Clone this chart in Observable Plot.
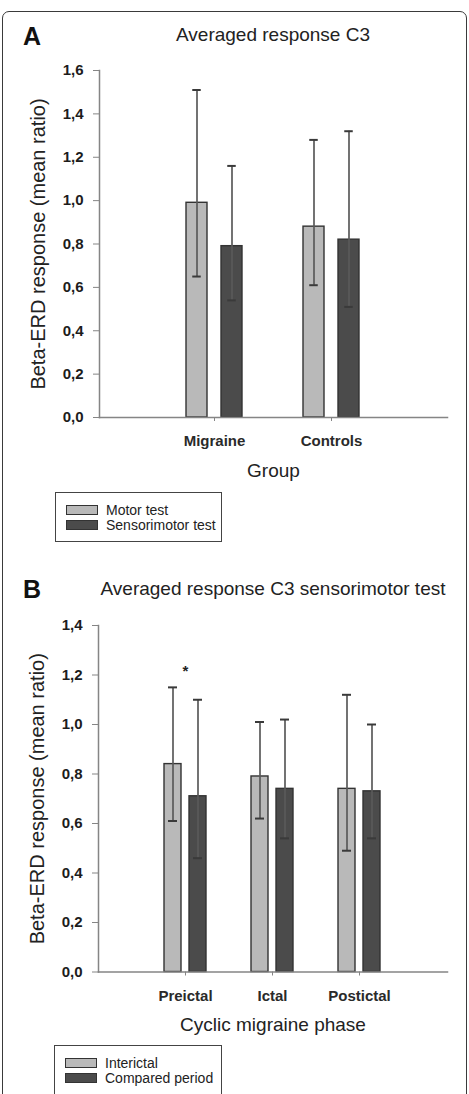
<!DOCTYPE html>
<html>
<head>
<meta charset="utf-8">
<script src="https://cdn.jsdelivr.net/npm/d3@7"></script>
<script src="https://cdn.jsdelivr.net/npm/@observablehq/plot@0.6"></script>
<style>
  body { margin: 0; background: #fff; font-family: "Liberation Sans", Arial, sans-serif; color: #1c1c1c; }
  #page { position: relative; width: 469px; height: 1094px; overflow: hidden; background: #fff; }
  #frame { position: absolute; left: 2px; top: 11px; width: 465px; height: 1110px; box-sizing: border-box;
           border: 1.5px solid #3a3a3a; border-radius: 7px; }
  .letter { position: absolute; font-weight: bold; font-size: 25px; line-height: 25px; color: #111; }
  .title { position: absolute; left: 99px; width: 348px; text-align: center; font-size: 19px; line-height: 19px;
           white-space: nowrap; color: #222; }
  .chart { position: absolute; left: 0; width: 469px; }
  .chart svg { position: absolute; left: 0; top: 0; }
  .legend { position: absolute; box-sizing: border-box; border: 1.5px solid #444; background: #fff; }
  .legend .row { position: absolute; left: 10px; height: 15px; display: flex; align-items: center;
                 font-size: 14px; color: #222; white-space: nowrap; }
  .legend .swatch { width: 32px; height: 10px; box-sizing: border-box; border: 1.3px solid #333; margin-right: 8px; }
</style>
</head>
<body>
<div id="page">
  <div id="frame"></div>

  <div class="letter" style="left:23px;top:24px">A</div>
  <div class="title" style="top:25px">Averaged response C3</div>
  <div class="chart" id="chartA" style="top:45px"></div>
  <div class="legend" id="legendA" style="left:55px;top:492px;width:167px;height:50px"></div>

  <div class="letter" style="left:23px;top:577px">B</div>
  <div class="title" style="top:579px">Averaged response C3 sensorimotor test</div>
  <div class="chart" id="chartB" style="top:603px"></div>
  <div class="legend" id="legendB" style="left:54px;top:1045px;width:168px;height:60px"></div>
</div>

<script>
// ---- Panel A: averaged C3 response by group ----
const groups = ["Migraine", "Controls"];
const tests = ["Motor test", "Sensorimotor test"];
const motorMean = [0.99, 0.88];
const motorLow = [0.65, 0.61];
const motorHigh = [1.51, 1.28];
const sensoriMean = [0.79, 0.82];
const sensoriLow = [0.54, 0.51];
const sensoriHigh = [1.16, 1.32];
const yTicksA = [0, 0.2, 0.4, 0.6, 0.8, 1.0, 1.2, 1.4, 1.6];

// ---- Panel B: sensorimotor test by migraine phase ----
const phases = ["Preictal", "Ictal", "Postictal"];
const periods = ["Interictal", "Compared period"];
const interictalMean = [0.84, 0.79, 0.74];
const interictalLow = [0.61, 0.62, 0.49];
const interictalHigh = [1.15, 1.01, 1.12];
const comparedMean = [0.71, 0.74, 0.73];
const comparedLow = [0.46, 0.54, 0.54];
const comparedHigh = [1.10, 1.02, 1.00];
const significantPhases = ["Preictal"];
const yTicksB = [0, 0.2, 0.4, 0.6, 0.8, 1.0, 1.2, 1.4];

const yTitle = "Beta-ERD response (mean ratio)";
const seriesColors = ["#b9b9b9", "#4b4b4b"];
const axisGray = "#858585";
const font = "Liberation Sans, Arial, sans-serif";

function buildRows(cats, names, series) {
  const rows = [];
  cats.forEach((cat, i) => {
    series.forEach((s, j) => {
      rows.push({cat, series: names[j], mean: s.mean[i], low: s.low[i], high: s.high[i]});
    });
  });
  return rows;
}

const rowsA = buildRows(groups, tests, [
  {mean: motorMean, low: motorLow, high: motorHigh},
  {mean: sensoriMean, low: sensoriLow, high: sensoriHigh}
]);
const rowsB = buildRows(phases, periods, [
  {mean: interictalMean, low: interictalLow, high: interictalHigh},
  {mean: comparedMean, low: comparedLow, high: comparedHigh}
]);

const commaFormat = d => d3.format(".1f")(d).replace(".", ",");

// Each panel is two layered plots sharing the same frame and y scale:
// a faceted one for the grouped bars, and a plain one for the y axis and axis lines.
function panel(o) {
  const frameOpts = {
    width: 469, height: o.height,
    marginTop: o.marginTop, marginBottom: o.marginBottom,
    marginLeft: o.marginLeft, marginRight: o.marginRight,
    style: {fontFamily: font, color: "#1c1c1c", background: "transparent", overflow: "visible"}
  };

  const bars = Plot.plot({
    ...frameOpts,
    fx: {domain: o.cats, paddingInner: o.fxPad[0], paddingOuter: o.fxPad[1], axis: null},
    x: {domain: o.names, paddingInner: o.xPad[0], paddingOuter: o.xPad[1], axis: null},
    y: {domain: o.yDomain, axis: null},
    color: {domain: o.names, range: seriesColors},
    marks: [
      Plot.barY(o.rows, {fx: "cat", x: "series", y: "mean", fill: "series", stroke: "#333", strokeWidth: 1.4}),
      Plot.ruleX(o.rows, {fx: "cat", x: "series", y1: "low", y2: "high", stroke: "#5a5a5a", strokeWidth: 1.7}),
      Plot.tickY(o.rows, {fx: "cat", x: "series", y: "high", insetLeft: o.capInset, insetRight: o.capInset, stroke: "#3a3a3a", strokeWidth: 2}),
      Plot.tickY(o.rows, {fx: "cat", x: "series", y: "low", insetLeft: o.capInset, insetRight: o.capInset, stroke: "#3a3a3a", strokeWidth: 2}),
      Plot.axisFx({anchor: "bottom", tickSize: 4, tickPadding: 14, fontSize: 15, fontWeight: "bold",
                   stroke: axisGray, fill: "#2a2a2a", label: null}),
      ...(o.extra || [])
    ]
  });

  const axes = Plot.plot({
    ...frameOpts,
    y: {domain: o.yDomain, axis: null},
    marks: [
      Plot.frame({anchor: "left", stroke: axisGray, strokeWidth: 1.5}),
      Plot.frame({anchor: "bottom", stroke: axisGray, strokeWidth: 1.5}),
      Plot.axisY({ticks: o.yTicks, tickSize: 6, tickPadding: 10, tickFormat: commaFormat,
                  fontSize: 15, fontWeight: "bold", stroke: axisGray, fill: "#1c1c1c", label: null}),
      Plot.text([o.xTitle], {frameAnchor: "bottom", dy: 59, fontSize: 19, fill: "#222"}),
      Plot.text([yTitle], {frameAnchor: "left", textAnchor: "middle", rotate: -90, dx: -61, fontSize: 20, fill: "#222"})
    ]
  });

  const holder = document.getElementById(o.id);
  holder.style.height = o.height + "px";
  holder.append(bars, axes);
}

panel({
  id: "chartA", rows: rowsA, cats: groups, names: tests,
  height: 442, marginTop: 25, marginBottom: 70, marginLeft: 99, marginRight: 22,
  fxPad: [0.4017, 0.688], xPad: [0.386, 0.193], capInset: 6.25,
  yDomain: [0, 1.6], yTicks: yTicksA, xTitle: "Group"
});

// significance marker above the interictal error bar of each flagged phase
const starRows = rowsB.filter(d => d.series === periods[0] && significantPhases.includes(d.cat));

panel({
  id: "chartB", rows: rowsB, cats: phases, names: periods,
  height: 439, marginTop: 22, marginBottom: 70.5, marginLeft: 98, marginRight: 22,
  fxPad: [0.402, 0.7066], xPad: [0.333, 0.186], capInset: 4,
  yDomain: [0, 1.4], yTicks: yTicksB, xTitle: "Cyclic migraine phase",
  extra: [
    Plot.text(starRows, {fx: "cat", y: "high", text: () => "*", lineAnchor: "bottom", dy: -11, fontSize: 15, fontWeight: "bold", fill: "#222"})
  ]
});

function legend(id, names) {
  const box = document.getElementById(id);
  names.forEach((name, i) => {
    const row = document.createElement("div");
    row.className = "row";
    row.style.top = (9 + i * 15) + "px";
    const sw = document.createElement("div");
    sw.className = "swatch";
    sw.style.background = seriesColors[i];
    const label = document.createElement("span");
    label.textContent = name;
    row.append(sw, label);
    box.append(row);
  });
}
legend("legendA", tests);
legend("legendB", periods);
</script>
</body>
</html>
